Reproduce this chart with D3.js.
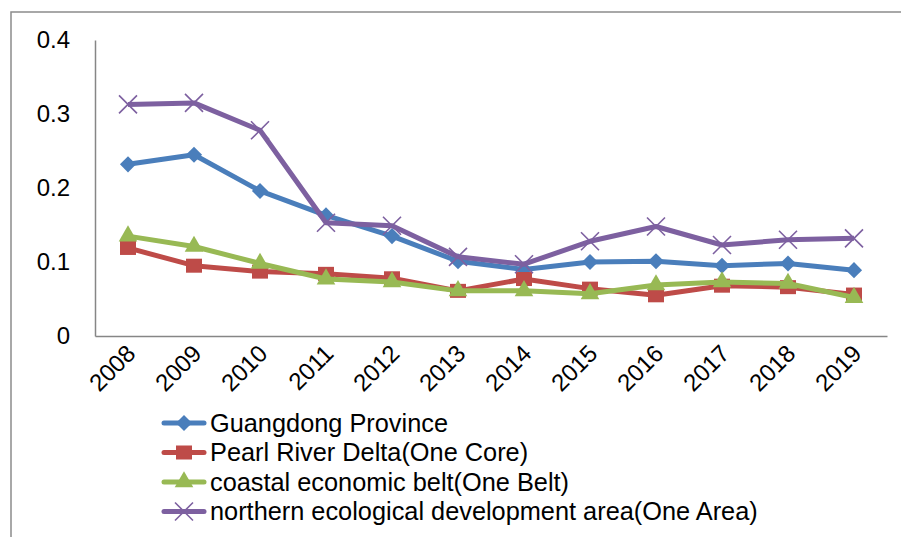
<!DOCTYPE html>
<html>
<head>
<meta charset="utf-8">
<script src="https://cdn.jsdelivr.net/npm/d3@7"></script>
<style>
  body { margin: 0; background: #fff; }
  text { font-family: "Liberation Sans", Arial, sans-serif; fill: #000; }
</style>
</head>
<body>
<div id="chart"></div>
<script>
const years = ["2008", "2009", "2010", "2011", "2012", "2013", "2014", "2015", "2016", "2017", "2018", "2019"];
const guangdong = [0.232, 0.245, 0.196, 0.163, 0.135, 0.101, 0.090, 0.100, 0.101, 0.095, 0.098, 0.089];
const pearlRiver = [0.119, 0.095, 0.087, 0.084, 0.078, 0.061, 0.077, 0.064, 0.055, 0.068, 0.066, 0.056];
const coastal = [0.135, 0.121, 0.098, 0.077, 0.073, 0.061, 0.061, 0.057, 0.069, 0.073, 0.071, 0.052];
const northern = [0.313, 0.315, 0.278, 0.153, 0.149, 0.107, 0.097, 0.128, 0.148, 0.123, 0.130, 0.132];
const yTicks = [0, 0.1, 0.2, 0.3, 0.4];

const series = [
  { name: "Guangdong Province", values: guangdong, color: "#4A7EBB", marker: "diamond" },
  { name: "Pearl River Delta(One Core)", values: pearlRiver, color: "#BE4B48", marker: "square" },
  { name: "coastal economic belt(One Belt)", values: coastal, color: "#98B954", marker: "triangle" },
  { name: "northern ecological development area(One Area)", values: northern, color: "#7D60A0", marker: "x" },
];

const W = 901, H = 537;
const plot = { left: 95, right: 887, top: 40, bottom: 336 };

const svg = d3.select("#chart").append("svg").attr("width", W).attr("height", H);

// outer chart frame
svg.append("rect")
  .attr("x", 11).attr("y", 12)
  .attr("width", 1000).attr("height", 1000)
  .attr("fill", "none").attr("stroke", "#8c8c8c").attr("stroke-width", 1.5);

const x = d3.scaleBand().domain(years).range([plot.left, plot.right]);
const y = d3.scaleLinear().domain([0, 0.4]).range([plot.bottom, plot.top]);

// y axis
const yAxis = svg.append("g")
  .attr("transform", "translate(" + plot.left + ",0)")
  .call(d3.axisLeft(y).tickValues(yTicks).tickFormat((d) => d === 0 ? "0" : d3.format(".1f")(d)).tickSize(0).tickPadding(25));
yAxis.select(".domain").attr("stroke", "#868686").attr("stroke-width", 1.5);
yAxis.selectAll("text").style("font-size", "24px").attr("fill", "#000");

// x axis
const xAxis = svg.append("g")
  .attr("transform", "translate(0," + plot.bottom + ")")
  .call(d3.axisBottom(x).tickSize(0).tickPadding(0));
xAxis.select(".domain").attr("stroke", "#868686").attr("stroke-width", 1.5);
xAxis.selectAll("text")
  .style("font-size", "24px")
  .attr("text-anchor", "end")
  .attr("dy", 0)
  .attr("transform", "translate(9,19) rotate(-45)");

const cx = (i) => x(years[i]) + x.bandwidth() / 2;

function drawMarker(g, type, color, px, py) {
  if (type === "diamond") {
    g.append("path").attr("d", d3.symbol(d3.symbolSquare, 130)()).attr("transform", "translate(" + px + "," + py + ") rotate(45)").attr("fill", color);
  } else if (type === "square") {
    g.append("rect").attr("x", px - 8).attr("y", py - 7).attr("width", 16).attr("height", 14).attr("fill", color);
  } else if (type === "triangle") {
    g.append("path").attr("d", d3.symbol(d3.symbolTriangle, 150)()).attr("transform", "translate(" + px + "," + py + ")").attr("fill", color);
  } else {
    const s = 9;
    g.append("path").attr("d", "M" + (px - s) + "," + (py - s) + "L" + (px + s) + "," + (py + s) + "M" + (px - s) + "," + (py + s) + "L" + (px + s) + "," + (py - s))
      .attr("stroke", color).attr("stroke-width", 1.6).attr("fill", "none");
  }
}

const line = d3.line().x((d, i) => cx(i)).y((d) => y(d));

series.forEach((s) => {
  const g = svg.append("g");
  g.append("path").datum(s.values).attr("d", line)
    .attr("fill", "none").attr("stroke", s.color).attr("stroke-width", 5).attr("stroke-linejoin", "round");
  s.values.forEach((v, i) => drawMarker(g, s.marker, s.color, cx(i), y(v)));
});

// legend
const legend = svg.append("g");
const legendTexts = [];
series.forEach((s, i) => {
  const ly = 423 + i * 29.5;
  legend.append("line").attr("x1", 164).attr("x2", 204).attr("y1", ly).attr("y2", ly)
    .attr("stroke", s.color).attr("stroke-width", 5).attr("stroke-linecap", "round");
  drawMarker(legend, s.marker, s.color, 184, ly);
  legendTexts.push(legend.append("text").attr("x", 210).attr("y", ly).attr("dy", "0.35em")
    .style("font-size", "20px").text(s.name));
});
// size legend font so the longest entry spans like the original
const longest = legendTexts[3].node().getComputedTextLength();
const fs = Math.min(26, 20 * 548 / longest);
legendTexts.forEach((t) => t.style("font-size", fs + "px"));
</script>
</body>
</html>
